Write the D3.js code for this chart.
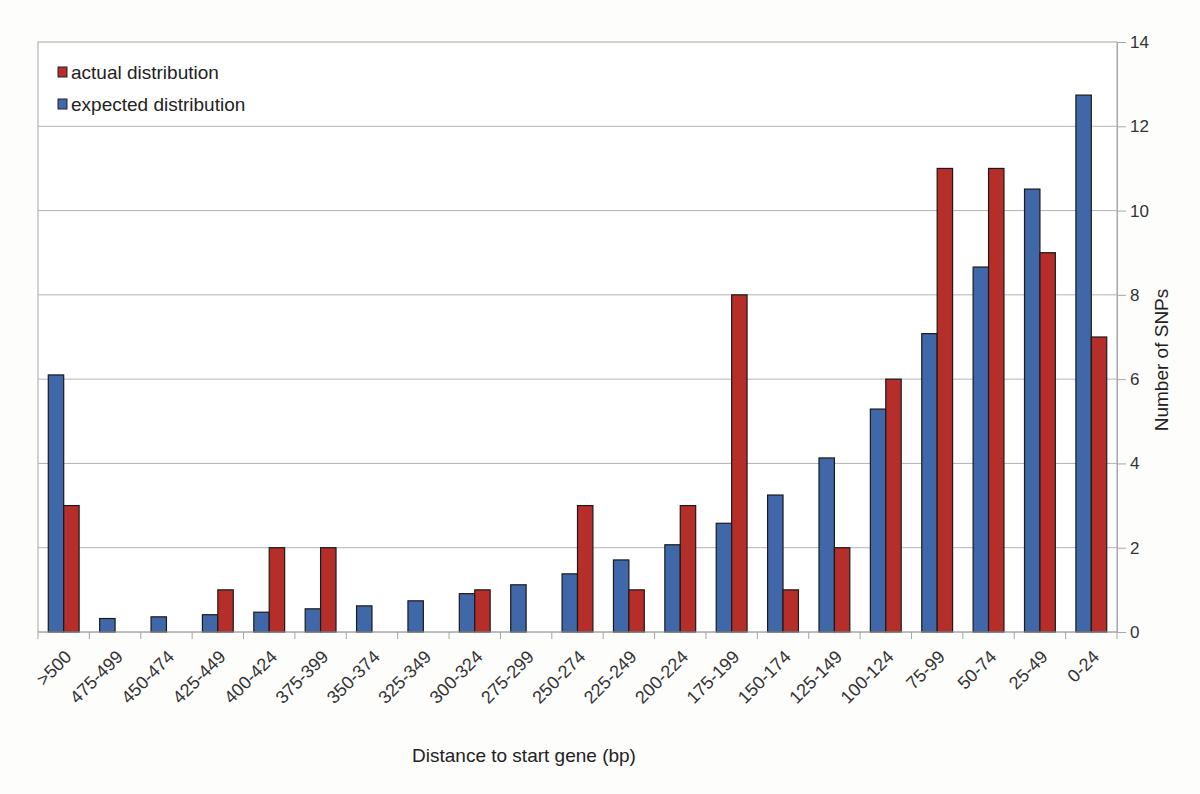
<!DOCTYPE html>
<html><head><meta charset="utf-8">
<script src="https://cdn.jsdelivr.net/npm/d3@7"></script>
<style>body{margin:0;background:#fdfdfc;} text{font-family:"Liberation Sans",Arial,sans-serif;fill:#222;}</style>
</head><body><svg id="c" width="1200" height="794"></svg>
<script>
const categories = [">500","475-499","450-474","425-449","400-424","375-399","350-374","325-349","300-324","275-299","250-274","225-249","200-224","175-199","150-174","125-149","100-124","75-99","50-74","25-49","0-24"];
const expected = [6.1,0.32,0.36,0.41,0.47,0.55,0.62,0.74,0.91,1.12,1.38,1.71,2.07,2.58,3.25,4.13,5.29,7.08,8.66,10.51,12.74];
const actual = [3,0,0,1,2,2,0,0,1,0,3,1,3,8,1,2,6,11,11,9,7];
const yTicks = [0,2,4,6,8,10,12,14];
const seriesNames = ["actual distribution","expected distribution"];
const colors = {actual:"#b52e29", expected:"#4067a8"};

const svg = d3.select("#c");
const L=38,R=1117,T=42,B=632;
const x = d3.scaleBand().domain(categories).range([L,R]).paddingInner(0.4).paddingOuter(0.2);
const x0 = d3.scaleBand().domain(categories).range([L,R]);
const y = d3.scaleLinear().domain([0,14]).range([B,T]);

svg.append("rect").attr("x",L).attr("y",T).attr("width",R-L).attr("height",B-T).attr("fill","#fff").attr("stroke","#a6a6a6");

svg.append("g").selectAll("line").data(yTicks.slice(1,-1)).join("line")
  .attr("x1",L).attr("x2",R).attr("y1",d=>y(d)).attr("y2",d=>y(d)).attr("stroke","#b3b3b3");

const sub = d3.scaleBand().domain(["expected","actual"]).range([0,x.bandwidth()]);
const g = svg.append("g");
categories.forEach((c,i)=>{
  [["expected",expected[i]],["actual",actual[i]]].forEach(([k,v])=>{
    if(v<=0) return;
    g.append("rect").attr("x",x(c)+sub(k)).attr("y",y(v)).attr("width",sub.bandwidth()).attr("height",B-y(v))
      .attr("fill",colors[k]).attr("stroke","#1a1a1a").attr("stroke-width",1.2);
  });
});

// right axis
const ya = d3.axisRight(y).tickValues(yTicks).tickSize(9).tickPadding(4);
const gy = svg.append("g").attr("transform",`translate(${R},0)`).call(ya);
gy.select(".domain").attr("stroke","#a6a6a6");
gy.selectAll(".tick line").attr("stroke","#a6a6a6");
gy.selectAll("text").attr("font-size",17).style("fill","#333");

// bottom axis
const gx = svg.append("g").attr("transform",`translate(0,${B})`);
gx.append("line").attr("x1",L).attr("x2",R).attr("stroke","#a6a6a6");
gx.selectAll(".tk").data(categories.concat(["_end"])).join("line")
  .attr("x1",(d,i)=>L+i*x0.bandwidth()).attr("x2",(d,i)=>L+i*x0.bandwidth()).attr("y1",0).attr("y2",7).attr("stroke","#a6a6a6");
gx.selectAll("text").data(categories).join("text")
  .attr("transform",d=>`translate(${x0(d)+x0.bandwidth()/2+9},${26}) rotate(-45)`)
  .attr("text-anchor","end").attr("font-size",18).style("fill","#333").text(d=>d);

svg.append("text").attr("x",524).attr("y",762).attr("text-anchor","middle").attr("font-size",19).text("Distance to start gene (bp)");
svg.append("text").attr("transform","translate(1168,360) rotate(-90)").attr("text-anchor","middle").attr("font-size",19).text("Number of SNPs");

// legend
const leg = svg.append("g");
[["actual",72],["expected",104]].forEach(([k,yy],i)=>{
  leg.append("rect").attr("x",58).attr("y",yy-5).attr("width",9).attr("height",10).attr("fill",colors[k]).attr("stroke","#222");
  leg.append("text").attr("x",71).attr("y",yy+7).attr("font-size",19).text(seriesNames[i]);
});
</script></body></html>
